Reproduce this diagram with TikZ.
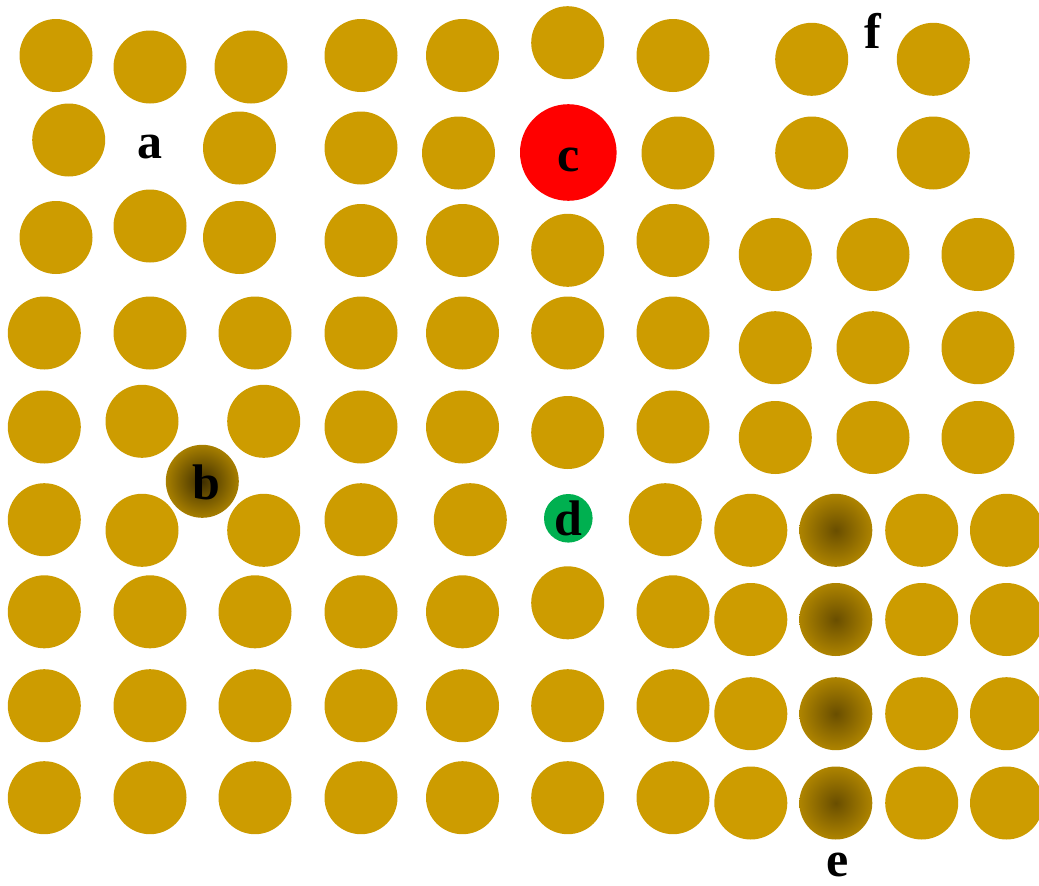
\documentclass[tikz,border=0pt]{standalone}
\usepackage{fontspec}
\setmainfont{Liberation Serif}
\definecolor{gold}{RGB}{205,156,0}
\definecolor{redc}{RGB}{255,0,0}
\definecolor{greend}{RGB}{0,176,80}
\definecolor{darkb}{RGB}{62,46,0}
\definecolor{darke}{RGB}{105,78,0}
\pgfdeclareradialshading{dimpleb}{\pgfpoint{0bp}{0bp}}{color(0bp)=(darkb); color(34bp)=(gold); color(50bp)=(gold)}
\pgfdeclareradialshading{dimplee}{\pgfpoint{0bp}{0bp}}{color(0bp)=(darke); color(36bp)=(gold); color(50bp)=(gold)}
\tikzset{
  dot/.style={fill=gold},
  lbl/.style={anchor=base, inner sep=0pt, font=\fontsize{50}{50}\selectfont\bfseries},
}
\begin{document}
\begin{tikzpicture}[x=1pt,y=-1pt]
\useasboundingbox (0,0) rectangle (1039,886);
\def\R{36.5}
% plain circles
\foreach \x/\y in {
  56/55.5, 150/67, 251/67, 361/55.5, 462.5/55.5, 567.7/42.7, 673/55.5, 811.7/59.3, 933.3/59.3,
  68.7/140, 239.5/148, 361/148, 458.5/153, 678/153, 811.7/153, 933.3/153,
  56/237.5, 150/226, 239.5/237.5, 361/240.5, 462.5/240.5, 567.7/250.3, 673/240.5, 775.3/254.5, 873/254.5, 978/254.5,
  44.3/333, 150/333, 255/333, 361/333, 462.5/333, 567.7/333, 673/333, 775.3/347.7, 873/347.7, 978/347.7,
  44.3/427, 142/421.3, 263.7/421.3, 361/427, 462.5/427, 567.7/432.5, 673/427, 775.3/437.5, 873/437.5, 978/437.5,
  44.3/519.7, 142/530.3, 263.7/530.3, 361/519.7, 470.3/519.7, 665.3/519.7, 750.8/530.3, 921.7/530.3, 1006.5/530.3,
  44.3/611.8, 150/611.8, 255/611.8, 361/611.8, 462.5/611.8, 567.7/602.8, 673/611.8, 750.8/619.5, 921.7/619.5, 1006.5/619.5,
  44.3/705.7, 150/705.7, 255/705.7, 361/705.7, 462.5/705.7, 567.7/705.7, 673/705.7, 750.8/713.7, 921.7/713.7, 1006.5/713.7,
  44.3/797.7, 150/797.7, 255/797.7, 361/797.7, 462.5/797.7, 567.7/797.7, 673/797.7, 750.8/803, 921.7/803, 1006.5/803}
  {\fill[dot] (\x,\y) circle[radius=\R];}
% shaded circles
\shade[shading=dimpleb] (202.3,481.3) circle[radius=\R];
\foreach \y in {530.3, 619.5, 713.7, 803}
  {\shade[shading=dimplee] (835.8,\y) circle[radius=\R];}
% special circles
\fill[redc] (568.3,152.5) circle[radius=48.3];
\fill[greend] (568.3,518.3) circle[radius=24.3];
% labels
\node[lbl] (la) at (150,158) {a};
\node[lbl] (lb) at (206.7,499) {b};
\node[lbl] (lc) at (568.3,171.7) {c};
\node[lbl] (ld) at (568.3,535.7) {d};
\node[lbl] (le) at (837.8,876.7) {e};
\node[lbl] (lf) at (873,48) {f};
\end{tikzpicture}
\end{document}
